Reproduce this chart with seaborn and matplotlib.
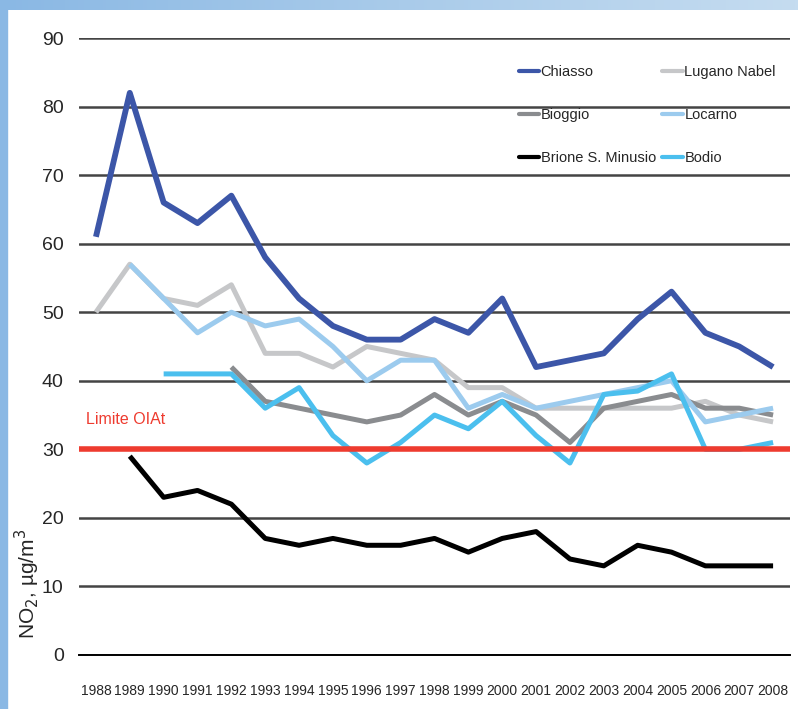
import numpy as np
import pandas as pd
import matplotlib
matplotlib.use("Agg")
import matplotlib.pyplot as plt
from matplotlib.patches import Rectangle
from matplotlib.ticker import MultipleLocator, FixedLocator
import seaborn as sns

# dati NO2 (media annua, µg/m3)
years = list(range(1988, 2009))
nan = np.nan
chiasso = [61, 82, 66, 63, 67, 58, 52, 48, 46, 46, 49, 47, 52, 42, 43, 44, 49, 53, 47, 45, 42]
lugano = [50, 57, 52, 51, 54, 44, 44, 42, 45, 44, 43, 39, 39, 36, 36, 36, 36, 36, 37, 35, 34]
bioggio = [nan, nan, nan, nan, 42, 37, 36, 35, 34, 35, 38, 35, 37, 35, 31, 36, 37, 38, 36, 36, 35]
locarno = [nan, 57, 52, 47, 50, 48, 49, 45, 40, 43, 43, 36, 38, 36, 37, 38, 39, 40, 34, 35, 36]
brione = [nan, 29, 23, 24, 22, 17, 16, 17, 16, 16, 17, 15, 17, 18, 14, 13, 16, 15, 13, 13, 13]
bodio = [nan, nan, 41, 41, 41, 36, 39, 32, 28, 31, 35, 33, 37, 32, 28, 38, 38.5, 41, 30, 30, 31]
limite = 30

stations = ["Chiasso", "Lugano Nabel", "Bioggio", "Locarno", "Brione S. Minusio", "Bodio"]
series = [chiasso, lugano, bioggio, locarno, brione, bodio]
colors = ["#3c56a8", "#c6c7c9", "#8a8c8f", "#9ccbee", "#000000", "#4bbfee"]

rows = []
for name, vals in zip(stations, series):
    for y, v in zip(years, vals):
        rows.append({"Anno": y, "NO2": v, "Stazione": name})
df = pd.DataFrame(rows).dropna()

sns.set_style("white")
plt.rcParams["font.family"] = ["Liberation Sans", "DejaVu Sans"]

fig = plt.figure(figsize=(7.98, 7.09), dpi=100)
ax = fig.add_axes([0.099, 0.0762, 0.891, 0.8702])

# cornice blu
fig.patches.append(Rectangle((0, 0), 0.009, 1, transform=fig.transFigure, color="#8ab8e4", zorder=0))
grad = np.linspace(0, 1, 256).reshape(1, -1)
top_ax = fig.add_axes([0, 0.986, 1, 0.014])
top_ax.imshow(grad, aspect="auto", cmap=matplotlib.colors.LinearSegmentedColormap.from_list(
    "b", ["#8ab8e4", "#a9cbea", "#c5dcf0"]))
top_ax.axis("off")

sns.lineplot(data=df, x="Anno", y="NO2", hue="Stazione", hue_order=stations,
             palette=colors, linewidth=3.6, ax=ax, legend=True, zorder=3)
for line, st in zip(ax.lines, stations):
    line.set_solid_capstyle("butt")
    if st == "Chiasso":
        line.set_linewidth(4.2)
        line.set_zorder(4)

ax.axhline(limite, color="#ee3b2f", linewidth=4, zorder=5, xmin=0, xmax=1.0)
ax.text(1987.7, 33.3, "Limite OIAt", color="#ee3b2f", fontsize=11.5, va="bottom")

ax.set_xlim(1987.5, 2008.5)
ax.set_ylim(0, 90)
ax.yaxis.set_major_locator(MultipleLocator(10))
ax.grid(axis="y", color="#444444", linewidth=1.8)
ax.grid(axis="x", visible=False)
ax.set_axisbelow(True)
for s in ["top", "right", "left"]:
    ax.spines[s].set_visible(False)
ax.spines["bottom"].set_color("black")
ax.spines["bottom"].set_linewidth(1.4)

ax.set_xticks(years)
ax.set_xticklabels([str(y) for y in years], fontsize=10)
ax.xaxis.set_minor_locator(FixedLocator(np.arange(1987.5, 2009, 1)))
ax.tick_params(axis="x", which="major", length=0, pad=21)
ax.tick_params(axis="x", which="minor", length=6, width=1, color="black", direction="out")
ax.tick_params(axis="y", length=0, labelsize=14, pad=11)

ax.set_xlabel("")
ax.set_ylabel("NO$_2$, µg/m$^3$", fontsize=15)
ax.yaxis.set_label_coords(-0.052, 0.115)

# legenda a due colonne riempita per righe
handles, labels = ax.get_legend_handles_labels()
order = [0, 2, 4, 1, 3, 5]
leg = ax.legend([handles[i] for i in order], [labels[i] for i in order],
                ncol=2, loc="upper left", bbox_to_anchor=(0.6, 0.978), frameon=False,
                fontsize=10.5, handlelength=1.4, handletextpad=0.1, columnspacing=0.45,
                labelspacing=2.0)
for h in leg.get_lines():
    h.set_linewidth(3)

fig.savefig("out.png", dpi=100, facecolor="white")
